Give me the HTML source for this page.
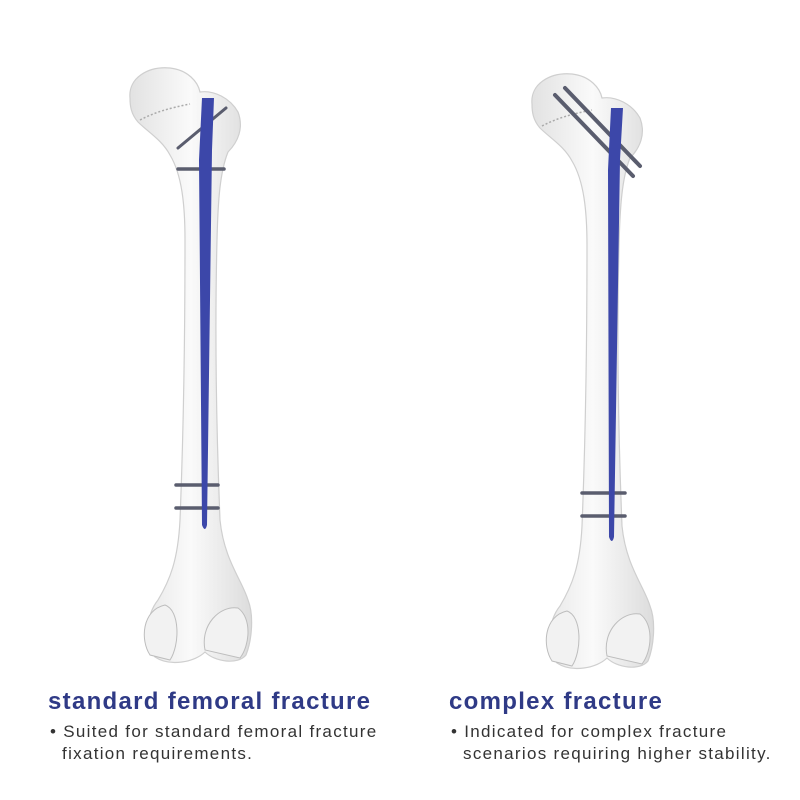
<!DOCTYPE html>
<html><head><style>
body{margin:0;width:800px;height:800px;background:#fff;overflow:hidden;position:relative;font-family:"Liberation Sans",sans-serif}
.t{position:absolute;font-weight:bold;font-size:24px;color:#2f3a86;letter-spacing:1.3px}
.d{position:absolute;font-size:17px;color:#333;line-height:22px;letter-spacing:1.3px}
</style></head><body>
<svg width="800" height="800" style="position:absolute;left:0;top:0">
<defs>
<linearGradient id="bg" x1="0" x2="1"><stop offset="0" stop-color="#e2e2e2"/><stop offset="0.5" stop-color="#fafafa"/><stop offset="1" stop-color="#dcdcdc"/></linearGradient>
<g id="bone">
<path d="M130,98 C128,78 148,66 170,68 C188,70 198,82 200,92 C214,90 230,98 238,112 C244,128 238,142 228,152 C220,172 218,200 217,240 C215,320 216,420 220,520 C224,560 242,580 248,600 C254,615 252,640 246,655 C238,665 215,662 205,652 C195,662 170,667 155,657 C144,642 146,615 158,600 C170,580 178,560 180,520 C184,420 185,320 185,240 C185,205 182,175 170,155 C162,140 148,132 138,122 C131,114 130,106 130,98 Z" fill="url(#bg)" stroke="#cfcfcf" stroke-width="1.2"/>
<path d="M150,655 C140,640 142,610 165,605 C180,610 180,645 170,660 Z" fill="#f2f2f2" stroke="#bdbdbd"/>
<path d="M205,650 C200,625 220,605 238,608 C252,618 250,645 240,658 Z" fill="#f2f2f2" stroke="#bdbdbd"/>
<path d="M140,120 C155,112 170,108 190,104" fill="none" stroke="#aaa" stroke-width="1.5" stroke-dasharray="2 2"/>
</g>
</defs>
<use href="#bone"/>
<use href="#bone" transform="translate(402,6)"/>
<g stroke="#5a5d6e" stroke-linecap="round">
<line x1="178" y1="148" x2="226" y2="108" stroke-width="3"/>
<line x1="178" y1="169" x2="224" y2="169" stroke-width="3.5"/>
<line x1="176" y1="485" x2="218" y2="485" stroke-width="3.5"/>
<line x1="176" y1="508" x2="218" y2="508" stroke-width="3.5"/>
<line x1="555" y1="95" x2="633" y2="176" stroke-width="4"/>
<line x1="565" y1="88" x2="640" y2="166" stroke-width="4"/>
<line x1="582" y1="493" x2="625" y2="493" stroke-width="3.5"/>
<line x1="582" y1="516" x2="625" y2="516" stroke-width="3.5"/>
</g>
<path d="M202,98 L214,98 L212,150 L207,525 Q205,533 202,525 L199,160 Z" fill="#3c47a9"/>
<path d="M611,108 L623,108 L620,160 L614,537 Q612,545 609,537 L608,170 Z" fill="#3c47a9"/>
</svg>
<div class="t" style="left:48px;top:688px">standard femoral fracture</div>
<div class="d" style="left:50px;top:721px">• Suited for standard femoral fracture<br>&nbsp;&nbsp;fixation requirements.</div>
<div class="t" style="left:449px;top:688px">complex fracture</div>
<div class="d" style="left:451px;top:721px">• Indicated for complex fracture<br>&nbsp;&nbsp;scenarios requiring higher stability.</div>
</body></html>
